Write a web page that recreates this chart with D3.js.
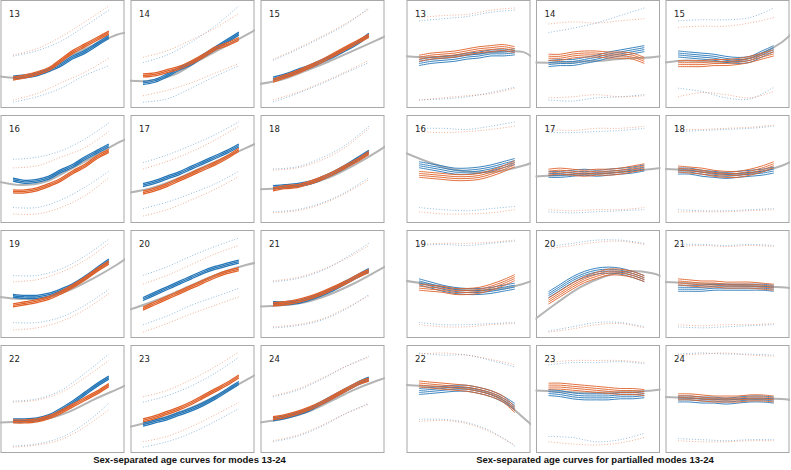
<!DOCTYPE html>
<html>
<head>
<meta charset="utf-8">
<script src="https://cdn.jsdelivr.net/npm/d3@7"></script>
<style>
  body { margin: 0; background: #fff; }
  text { font-family: "DejaVu Sans", sans-serif; }
</style>
</head>
<body>
<svg id="chart" width="791" height="470"></svg>
<script>
const modes = [13, 14, 15, 16, 17, 18, 19, 20, 21, 22, 23, 24];

// ages where each series was sampled
const dataAges = [8, 9.5, 11, 12.5, 14, 15.5, 17, 18.5, 20];
const popAges = [6.3, 9, 12, 15, 18, 21, 22.2];
const boundAges = [8, 11, 14, 17, 20];

// band offsets (standard errors) around each sex mean
const sepBand = [-1.4, 0, 1.4];
const parBand = [-2.8, -0.9, 0.9, 2.8];

// ---- sex-separated modes ----
const sepPop = [
  [29, 28, 34, 48, 58, 68, 70], [25, 25, 31, 44, 56, 68, 73], [22, 26, 34, 43, 53, 63, 67],
  [38, 35, 38, 49, 61, 74, 78], [28, 32, 40, 50, 60, 70, 74], [31, 32, 35, 42, 53, 66, 72],
  [38, 36, 37, 44, 55, 68, 74], [26, 33, 42, 52, 61, 68, 70], [29, 30, 33, 40, 50, 62, 67],
  [28, 29, 31, 38, 49, 59, 63], [24, 29, 36, 45, 56, 68, 73], [28, 31, 37, 47, 58, 67, 70]
];
const sepMale = [
  [28, 29, 31, 35, 40, 47, 52, 59, 66], [23, 25, 30, 36, 41, 48, 55, 62, 69], [27, 30, 34, 38, 43, 48, 54, 60, 68],
  [40, 38, 39, 42, 48, 53, 60, 66, 72], [35, 38, 42, 46, 51, 56, 61, 66, 72], [33, 34, 35, 37, 41, 46, 52, 59, 66],
  [39, 38, 38, 40, 44, 49, 56, 64, 72], [36, 41, 46, 51, 56, 61, 65, 68, 71], [32, 32, 33, 36, 40, 45, 51, 57, 63],
  [30, 30, 31, 34, 40, 47, 55, 63, 70], [26, 29, 32, 36, 40, 45, 51, 58, 65], [31, 33, 36, 40, 46, 52, 58, 64, 69]
];
const sepFemale = [
  [27, 29, 32, 36, 44, 52, 58, 64, 70], [30, 31, 34, 37, 42, 48, 55, 59, 64], [25, 29, 33, 38, 43, 49, 55, 61, 67],
  [29, 29, 31, 35, 40, 47, 53, 61, 67], [28, 31, 35, 40, 45, 50, 55, 61, 68], [31, 33, 34, 37, 41, 46, 52, 58, 65],
  [30, 32, 34, 37, 42, 48, 55, 63, 70], [27, 32, 37, 42, 47, 52, 57, 61, 64], [31, 32, 34, 37, 41, 46, 51, 57, 62],
  [29, 29, 30, 33, 38, 44, 50, 56, 63], [30, 33, 37, 41, 46, 52, 58, 64, 71], [32, 34, 37, 41, 46, 52, 58, 64, 68]
];
const sepMaleHi = [
  [48, 53, 62, 76, 91], [42, 49, 61, 76, 95], [44, 54, 65, 77, 93], [59, 61, 67, 78, 93],
  [56, 63, 72, 82, 94], [50, 52, 60, 72, 90], [58, 58, 64, 76, 92], [58, 66, 76, 85, 93],
  [52, 55, 62, 74, 88], [48, 50, 58, 74, 92], [47, 53, 62, 74, 89], [52, 58, 68, 80, 90]
];
const sepFemaleHi = [
  [49, 55, 66, 80, 95], [47, 53, 63, 74, 88], [45, 55, 66, 78, 92], [51, 53, 61, 70, 85],
  [50, 57, 66, 77, 90], [49, 51, 58, 70, 88], [52, 54, 61, 72, 88], [50, 58, 68, 78, 86],
  [53, 56, 63, 73, 86], [47, 49, 56, 70, 86], [52, 58, 68, 80, 94], [53, 59, 69, 80, 89]
];
const sepMaleLo = [
  [5, 10, 18, 30, 39], [5, 8, 18, 29, 39], [5, 13, 22, 32, 42], [14, 14, 21, 33, 48],
  [13, 19, 27, 36, 48], [10, 12, 18, 28, 42], [14, 14, 19, 30, 45], [12, 20, 30, 38, 46],
  [9, 11, 16, 26, 40], [6, 8, 14, 27, 46], [5, 10, 18, 29, 41], [10, 15, 24, 36, 46]
];
const sepFemaleLo = [
  [7, 13, 23, 33, 46], [11, 16, 23, 32, 41], [7, 14, 23, 33, 44], [8, 8, 14, 25, 42],
  [6, 12, 21, 31, 43], [9, 11, 17, 27, 40], [7, 9, 15, 26, 41], [5, 13, 22, 30, 38],
  [10, 12, 17, 27, 39], [5, 7, 12, 24, 40], [10, 15, 24, 35, 47], [11, 16, 25, 36, 45]
];

// ---- partialled modes ----
const parPop = [
  [48, 47, 48, 50, 52, 52, 47], [42, 42, 43, 44, 46, 47, 48], [42, 44, 43, 43, 49, 61, 69],
  [65, 57, 50, 47, 48, 53, 56], [43, 44, 45, 46, 48, 50, 51], [50, 49, 47, 45, 47, 53, 57],
  [53, 50, 46, 44, 45, 50, 53], [17, 32, 47, 57, 62, 60, 57], [52, 51, 50, 49, 48, 47, 46],
  [63, 62, 61, 59, 51, 33, 25], [58, 57, 56, 56, 57, 58, 59], [52, 51, 50, 50, 50, 50, 49]
];
const parMale = [
  [42, 44, 45, 46, 48, 49, 51, 51, 52], [41, 42, 42, 44, 46, 49, 51, 53, 55], [50, 49, 48, 47, 45, 44, 45, 50, 55],
  [54, 52, 50, 48, 48, 49, 51, 54, 57], [45, 45, 46, 47, 46, 47, 48, 49, 51], [48, 48, 46, 45, 44, 45, 46, 47, 49],
  [52, 49, 46, 44, 43, 43, 44, 46, 48], [40, 47, 54, 59, 62, 63, 62, 59, 55], [46, 46, 46, 47, 47, 47, 47, 47, 46],
  [57, 58, 59, 60, 60, 58, 55, 50, 43], [56, 55, 53, 52, 52, 52, 53, 53, 54], [50, 50, 49, 49, 48, 49, 50, 50, 49]
];
const parFemale = [
  [46, 48, 49, 50, 52, 54, 55, 56, 54], [47, 47, 49, 50, 50, 49, 49, 48, 44], [41, 41, 41, 42, 42, 43, 45, 48, 51],
  [45, 44, 43, 42, 42, 43, 46, 50, 55], [47, 48, 47, 46, 47, 47, 48, 50, 52], [50, 49, 48, 46, 45, 45, 47, 50, 54],
  [47, 46, 45, 43, 43, 44, 47, 51, 56], [34, 41, 48, 54, 58, 61, 61, 59, 55], [52, 51, 50, 50, 49, 49, 49, 48, 47],
  [64, 63, 62, 61, 60, 58, 55, 50, 40], [62, 62, 61, 60, 59, 58, 57, 57, 56], [52, 52, 51, 50, 50, 50, 51, 51, 50]
];
const parMaleHi = [
  [81, 83, 85, 89, 91], [70, 74, 79, 86, 93], [81, 82, 82, 84, 93], [88, 88, 87, 90, 94],
  [84, 84, 85, 86, 88], [85, 86, 87, 88, 90], [86, 87, 86, 88, 90], [85, 88, 91, 91, 88],
  [87, 87, 86, 87, 86], [93, 91, 91, 86, 80], [82, 84, 84, 85, 83], [92, 93, 92, 92, 91]
];
const parFemaleHi = [
  [84, 86, 87, 91, 93], [78, 80, 79, 81, 83], [75, 76, 76, 79, 84], [85, 84, 85, 87, 90],
  [87, 86, 88, 88, 90], [87, 87, 88, 89, 91], [87, 88, 88, 89, 91], [83, 86, 89, 90, 87],
  [85, 86, 85, 86, 85], [92, 93, 91, 87, 82], [84, 86, 86, 86, 84], [91, 92, 93, 91, 90]
];
const parMaleLo = [
  [7, 8, 10, 14, 19], [7, 6, 9, 10, 12], [18, 15, 9, 8, 19], [14, 12, 11, 13, 15],
  [10, 9, 10, 11, 12], [12, 11, 11, 12, 13], [14, 12, 12, 13, 14], [6, 10, 14, 14, 10],
  [10, 9, 10, 11, 12], [31, 31, 28, 20, 6], [15, 14, 10, 12, 18], [13, 12, 11, 12, 12]
];
const parFemaleLo = [
  [7, 9, 11, 13, 18], [9, 10, 12, 10, 11], [10, 14, 12, 9, 15], [10, 8, 8, 9, 12],
  [12, 11, 12, 12, 14], [10, 10, 10, 11, 12], [12, 10, 10, 12, 13], [5, 8, 12, 13, 9],
  [12, 11, 12, 12, 13], [29, 30, 27, 19, 7], [10, 8, 7, 9, 14], [11, 10, 10, 11, 11]
];

const blue = "#2677b8",
    orange = "#e0622a",
    gray = "#b4b4b4"

let cellW = 123,
    cellH = 107

const x = d3.scaleLinear().domain([6.5, 21.9]).range([0, cellW]);
const y = d3.scaleLinear().domain([0, 100]).range([cellH, 0]);

let lineFor = (ages, off = 0) => d3.line()
    .x((d, i) => x(ages[i]))
    .y((d) => y(d + off))
    .curve(d3.curveCatmullRom)

const svg = d3.select("#chart");

// one clip rect, reused by every cell in its own local coordinates
svg.append("defs")
    .append("clipPath")
    .attr("id", "cellClip")
    .append("rect")
    .attr("x", -1).attr("y", -1)
    .attr("width", cellW + 2).attr("height", cellH + 2)

/*
    draws one 4x3 block of small multiples
    left edge x0, column pitch colStep
*/
const drawPanel = (x0, colStep, p, title) => {
    const g = svg.append("g").attr("transform", "translate(" + x0 + ",0)")

    modes.forEach((m, k) => {
        const col = k % 3, row = Math.floor(k / 3)
        const cell = g.append("g")
            .attr("transform", "translate(" + (col * colStep) + "," + (0.5 + row * 115) + ")")

        cell.append("rect")
            .attr("width", cellW).attr("height", cellH)
            .attr("fill", "#fff")
            .attr("stroke", "#a8a8a8")
            .attr("stroke-width", 1)

        const inner = cell.append("g").attr("clip-path", "url(#cellClip)")

        // dotted bounds
        const bounds = [[p.maleHi[k], blue], [p.femaleHi[k], orange], [p.maleLo[k], blue], [p.femaleLo[k], orange]]
        inner.selectAll("path.bound")
            .data(bounds)
            .join("path")
            .attr("class", "bound")
            .attr("d", (d) => lineFor(boundAges)(d[0]))
            .attr("fill", "none")
            .attr("stroke", (d) => d[1])
            .attr("stroke-opacity", 0.55)
            .attr("stroke-width", 0.9)
            .attr("stroke-dasharray", "1,1.8")

        // population curve
        inner.append("path")
            .attr("d", lineFor(popAges)(p.pop[k]))
            .attr("fill", "none")
            .attr("stroke", gray)
            .attr("stroke-width", 2)

        // sex bands
        ;[[p.male[k], blue], [p.female[k], orange]].forEach(([vals, color]) => {
            inner.append("g")
                .selectAll("path")
                .data(p.band)
                .join("path")
                .attr("d", (off) => lineFor(dataAges, off)(vals))
                .attr("fill", "none")
                .attr("stroke", color)
                .attr("stroke-width", p.bandWidth)
        })

        cell.append("text")
            .attr("x", 8).attr("y", 16)
            .attr("font-size", 8.5)
            .attr("fill", "#222")
            .text(m)
    })

    svg.append("text")
        .attr("x", x0 + colStep + cellW / 2 - 3)
        .attr("y", 463)
        .attr("text-anchor", "middle")
        .style("font-family", "'Liberation Sans', Arial, sans-serif")
        .attr("font-weight", "bold")
        .attr("font-size", 9.5)
        .attr("fill", "#111")
        .text(title)
}

drawPanel(1, 130, {
    pop: sepPop, male: sepMale, female: sepFemale,
    maleHi: sepMaleHi, femaleHi: sepFemaleHi, maleLo: sepMaleLo, femaleLo: sepFemaleLo,
    band: sepBand, bandWidth: 1.3
}, "Sex-separated age curves for modes 13-24")

drawPanel(407, 129.5, {
    pop: parPop, male: parMale, female: parFemale,
    maleHi: parMaleHi, femaleHi: parFemaleHi, maleLo: parMaleLo, femaleLo: parFemaleLo,
    band: parBand, bandWidth: 0.9
}, "Sex-separated age curves for partialled modes 13-24")
</script>
</body>
</html>
